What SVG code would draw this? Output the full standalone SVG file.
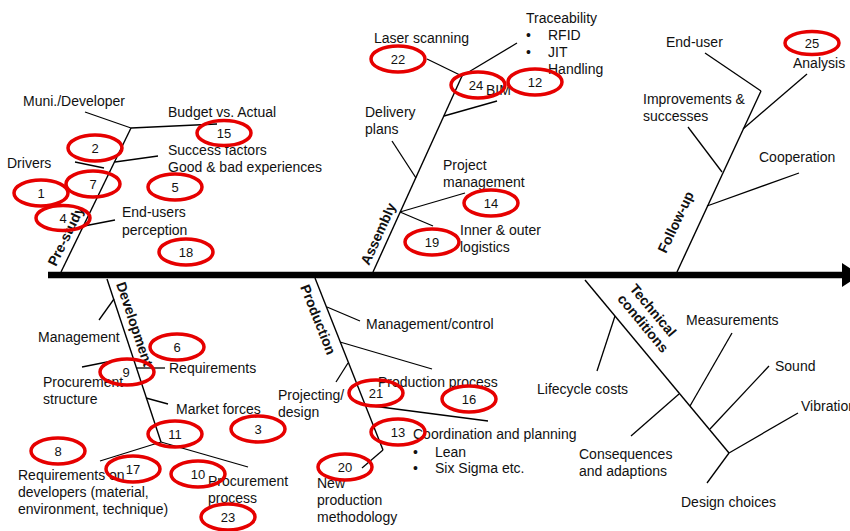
<svg xmlns="http://www.w3.org/2000/svg" width="850" height="531" viewBox="0 0 850 531">
<style>
.ln{stroke:#000;stroke-width:1.3;fill:none}
.sp{stroke:#000;stroke-width:1.4;fill:none}
text{font-family:"Liberation Sans",Arial,sans-serif;font-size:14px;fill:#111}
.cat{font-weight:bold}
.num{font-size:13px;text-anchor:middle}
.ov{fill:none;stroke:#e60000;stroke-width:3.5}
</style>
<rect width="850" height="531" fill="#fff"/>
<g id="connectors">
<line x1="48" y1="275" x2="844" y2="275" stroke="#000" stroke-width="6.5"/>
<polygon points="842,263 860,275 842,287" fill="#000"/>
<!-- Pre-study -->
<line class="sp" x1="61" y1="272" x2="131" y2="128"/>
<line class="ln" x1="131" y1="128" x2="217" y2="124"/>
<line class="ln" x1="85" y1="112" x2="131" y2="128"/>
<line class="ln" x1="115" y1="162" x2="158" y2="156"/>
<line class="ln" x1="75" y1="162" x2="104" y2="168"/>
<line class="ln" x1="84" y1="226" x2="115" y2="220"/>
<!-- Development -->
<line class="sp" x1="107" y1="279" x2="161" y2="442"/>
<line class="ln" x1="99" y1="320" x2="114" y2="299"/>
<line class="ln" x1="82" y1="367" x2="112" y2="361"/>
<line class="ln" x1="136" y1="368" x2="165" y2="368"/>
<line class="ln" x1="146" y1="398" x2="168" y2="404"/>
<line class="ln" x1="161" y1="442" x2="100" y2="461"/>
<line class="ln" x1="161" y1="442" x2="248" y2="467"/>
<!-- Production -->
<line class="sp" x1="315" y1="278" x2="383" y2="450"/>
<line class="ln" x1="327" y1="307" x2="360" y2="321"/>
<line class="ln" x1="340" y1="342" x2="432" y2="369"/>
<line class="ln" x1="348" y1="363" x2="336" y2="382"/>
<line class="ln" x1="365" y1="405" x2="488" y2="421"/>
<line class="ln" x1="383" y1="450" x2="362" y2="468"/>
<!-- Assembly -->
<line class="sp" x1="373" y1="272" x2="462" y2="76"/>
<line class="ln" x1="427" y1="59" x2="462" y2="76"/>
<line class="ln" x1="462" y1="76" x2="517" y2="43"/>
<line class="ln" x1="444" y1="116" x2="497" y2="101"/>
<line class="ln" x1="392" y1="141" x2="416" y2="178"/>
<line class="ln" x1="400" y1="212" x2="465" y2="193"/>
<line class="ln" x1="400" y1="212" x2="433" y2="226"/>
<!-- Follow-up -->
<line class="sp" x1="677" y1="272" x2="761" y2="91"/>
<line class="ln" x1="705" y1="53" x2="761" y2="91"/>
<line class="ln" x1="743" y1="129" x2="807" y2="74"/>
<line class="ln" x1="688" y1="127" x2="722" y2="172"/>
<line class="ln" x1="707" y1="206" x2="799" y2="173"/>
<!-- Technical conditions -->
<line class="sp" x1="585" y1="280" x2="729" y2="453"/>
<line class="ln" x1="615" y1="316" x2="597" y2="371"/>
<line class="ln" x1="679" y1="394" x2="631" y2="436"/>
<line class="ln" x1="690" y1="406" x2="732" y2="333"/>
<line class="ln" x1="710" y1="429" x2="769" y2="366"/>
<line class="ln" x1="729" y1="453" x2="798" y2="413"/>
<line class="ln" x1="729" y1="453" x2="707" y2="483"/>
</g>
<g id="categories">
<g id="cat-prestudy"><text class="cat" transform="translate(56,267) rotate(-64)">Pre-study</text></g>
<g id="cat-development"><text class="cat" transform="translate(116,284) rotate(71.5)">Development</text></g>
<g id="cat-production"><text class="cat" transform="translate(300,287) rotate(68.4)">Production</text></g>
<g id="cat-assembly"><text class="cat" transform="translate(369,266) rotate(-65.6)">Assembly</text></g>
<g id="cat-followup"><text class="cat" transform="translate(666,254) rotate(-64.7)">Follow-up</text></g>
<g id="cat-technical"><text class="cat" transform="translate(629,289) rotate(50.2)"><tspan x="0" y="0">Technical</tspan><tspan x="0" y="16">conditions</tspan></text></g>
</g>
<g id="labels">
<g id="l-muni"><text x="23" y="106">Muni./Developer</text></g>
<g id="l-budget"><text x="168" y="117">Budget vs. Actual</text></g>
<g id="l-success"><text x="168" y="155">Success factors</text><text x="168" y="172">Good &amp; bad experiences</text></g>
<g id="l-drivers"><text x="7" y="168">Drivers</text></g>
<g id="l-endusers"><text x="122" y="217">End-users</text><text x="122" y="235">perception</text></g>
<g id="l-management"><text x="38" y="342">Management</text></g>
<g id="l-requirements"><text x="169" y="373">Requirements</text></g>
<g id="l-procstruct"><text x="43" y="387">Procurement</text><text x="43" y="404">structure</text></g>
<g id="l-market"><text x="176" y="414">Market forces</text></g>
<g id="l-reqdev"><text x="18" y="480">Requirements on</text><text x="18" y="497">developers (material,</text><text x="18" y="514">environment, technique)</text></g>
<g id="l-procproc"><text x="208" y="486">Procurement</text><text x="208" y="503">process</text></g>
<g id="l-mgmtctrl"><text x="366" y="329">Management/control</text></g>
<g id="l-prodproc"><text x="378" y="387">Production process</text></g>
<g id="l-projecting"><text x="278" y="400">Projecting/</text><text x="278" y="417">design</text></g>
<g id="l-coord"><text x="413" y="439">Coordination and planning</text><text x="413" y="457">•</text><text x="435" y="457">Lean</text><text x="413" y="473">•</text><text x="435" y="473">Six Sigma etc.</text></g>
<g id="l-newprod"><text x="317" y="488">New</text><text x="317" y="505">production</text><text x="317" y="522">methodology</text></g>
<g id="l-laser"><text x="374" y="43">Laser scanning</text></g>
<g id="l-trace"><text x="526" y="23">Traceability</text><text x="526" y="40">•</text><text x="548" y="40">RFID</text><text x="526" y="57">•</text><text x="548" y="57">JIT</text><text x="548" y="74">Handling</text></g>
<g id="l-bim"><text x="486" y="95">BIM</text></g>
<g id="l-delivery"><text x="365" y="117">Delivery</text><text x="365" y="134">plans</text></g>
<g id="l-projmgmt"><text x="443" y="170">Project</text><text x="443" y="187">management</text></g>
<g id="l-logistics"><text x="460" y="235">Inner &amp; outer</text><text x="460" y="252">logistics</text></g>
<g id="l-enduser"><text x="666" y="47">End-user</text></g>
<g id="l-analysis"><text x="793" y="68">Analysis</text></g>
<g id="l-improve"><text x="643" y="104">Improvements &amp;</text><text x="643" y="121">successes</text></g>
<g id="l-coop"><text x="759" y="162">Cooperation</text></g>
<g id="l-measure"><text x="686" y="325">Measurements</text></g>
<g id="l-sound"><text x="775" y="371">Sound</text></g>
<g id="l-vibration"><text x="801" y="411">Vibration</text></g>
<g id="l-lifecycle"><text x="537" y="394">Lifecycle costs</text></g>
<g id="l-conseq"><text x="579" y="459">Consequences</text><text x="579" y="476">and adaptions</text></g>
<g id="l-design"><text x="681" y="507">Design choices</text></g>
</g>
<g id="markers">
<g id="m15"><ellipse class="ov" cx="224" cy="133" rx="27" ry="12.5"/><text class="num" x="224" y="138">15</text></g>
<g id="m2"><ellipse class="ov" cx="95" cy="148" rx="27" ry="13"/><text class="num" x="95" y="153">2</text></g>
<g id="m7"><ellipse class="ov" cx="93" cy="184" rx="27" ry="13"/><text class="num" x="93" y="189">7</text></g>
<g id="m1"><ellipse class="ov" cx="41" cy="193" rx="27" ry="13"/><text class="num" x="41" y="198">1</text></g>
<g id="m4"><ellipse class="ov" cx="63" cy="218" rx="27" ry="12.5"/><text class="num" x="63" y="223">4</text></g>
<g id="m5"><ellipse class="ov" cx="175" cy="187" rx="27" ry="13"/><text class="num" x="175" y="192">5</text></g>
<g id="m18"><ellipse class="ov" cx="186" cy="252" rx="27" ry="13"/><text class="num" x="186" y="257">18</text></g>
<g id="m22"><ellipse class="ov" cx="398" cy="59" rx="27" ry="13"/><text class="num" x="398" y="64">22</text></g>
<g id="m24"><ellipse class="ov" cx="478" cy="85" rx="27" ry="13"/><text class="num" x="476" y="90">24</text></g>
<g id="m12"><ellipse class="ov" cx="535" cy="82" rx="27" ry="13"/><text class="num" x="535" y="87">12</text></g>
<g id="m14"><ellipse class="ov" cx="491" cy="203" rx="27" ry="13"/><text class="num" x="491" y="208">14</text></g>
<g id="m19"><ellipse class="ov" cx="432" cy="242" rx="27" ry="13"/><text class="num" x="432" y="247">19</text></g>
<g id="m25"><ellipse class="ov" cx="812" cy="43" rx="27" ry="11.5"/><text class="num" x="812" y="48">25</text></g>
<g id="m6"><ellipse class="ov" cx="177" cy="347" rx="27" ry="13"/><text class="num" x="177" y="352">6</text></g>
<g id="m9"><ellipse class="ov" cx="127" cy="372" rx="27" ry="13"/><text class="num" x="126" y="377">9</text></g>
<g id="m11"><ellipse class="ov" cx="175" cy="434" rx="27" ry="13"/><text class="num" x="175" y="439">11</text></g>
<g id="m3"><ellipse class="ov" cx="258" cy="429" rx="27" ry="13"/><text class="num" x="258" y="434">3</text></g>
<g id="m8"><ellipse class="ov" cx="58" cy="451" rx="27" ry="13"/><text class="num" x="58" y="456">8</text></g>
<g id="m17"><ellipse class="ov" cx="133" cy="469" rx="27" ry="13"/><text class="num" x="133" y="474">17</text></g>
<g id="m10"><ellipse class="ov" cx="198" cy="474" rx="27" ry="13"/><text class="num" x="198" y="479">10</text></g>
<g id="m23"><ellipse class="ov" cx="228" cy="517" rx="27" ry="13"/><text class="num" x="228" y="522">23</text></g>
<g id="m21"><ellipse class="ov" cx="376" cy="393" rx="27" ry="13"/><text class="num" x="376" y="398">21</text></g>
<g id="m16"><ellipse class="ov" cx="469" cy="399" rx="27" ry="13"/><text class="num" x="469" y="404">16</text></g>
<g id="m13"><ellipse class="ov" cx="398" cy="432" rx="27" ry="13"/><text class="num" x="398" y="437">13</text></g>
<g id="m20"><ellipse class="ov" cx="345" cy="467" rx="27" ry="13"/><text class="num" x="345" y="472">20</text></g>
</g>
</svg>
